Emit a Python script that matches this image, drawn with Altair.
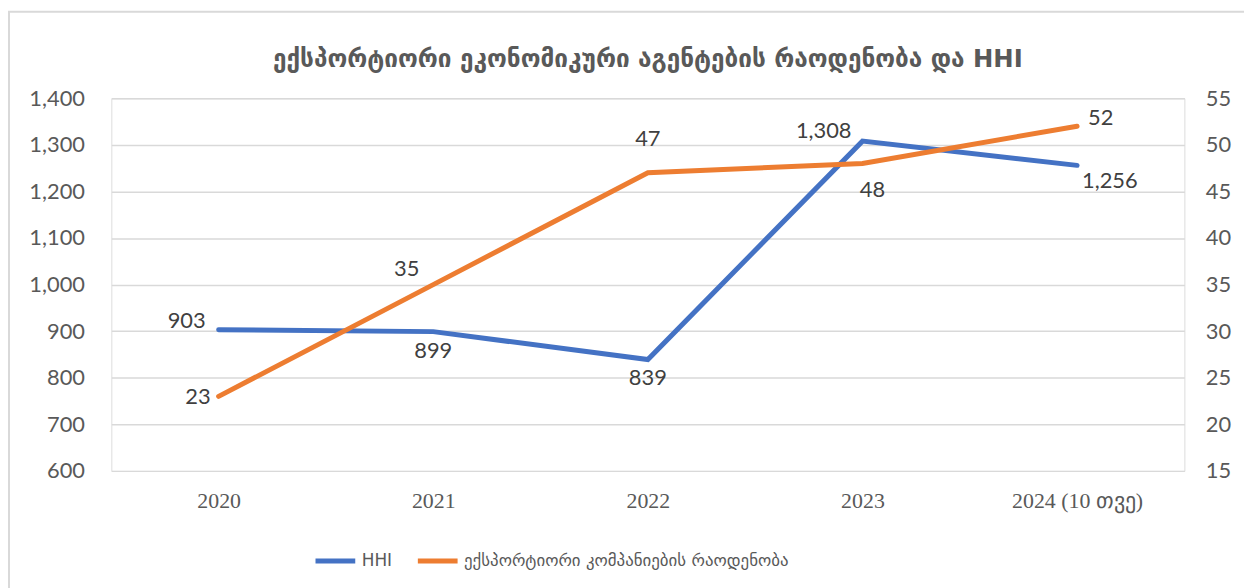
import altair as alt
import pandas as pd

years = ["2020", "2021", "2022", "2023", "2024 (10 თვე)"]
hhi = [903, 899, 839, 1308, 1256]
companies = [23, 35, 47, 48, 52]

hhi_name = "HHI"
cnt_name = "ექსპორტიორი კომპანიების რაოდენობა"
title_text = "ექსპორტიორი ეკონომიკური აგენტების რაოდენობა და HHI"

BLUE = "#4472C4"
ORANGE = "#ED7D31"
GRID = "#d9d9d9"
TXT = "#595959"
LBL = "#404040"
NUMFONT = "Lato"
GEOFONT = "DejaVu Sans"

df_h = pd.DataFrame({"year": years, "value": hhi, "series": hhi_name,
                     "label": [f"{v:,}" for v in hhi]})
df_c = pd.DataFrame({"year": years, "value": companies, "series": cnt_name,
                     "label": [str(v) for v in companies]})

W, H = 1080, 375

xenc = alt.X("year:N", sort=years, scale=alt.Scale(type="point", padding=0.5),
             axis=alt.Axis(title=None, labelAngle=0, domain=False, ticks=False,
                           labelFont="Liberation Serif", labelFontSize=22,
                           labelColor=TXT, labelPadding=20, grid=False))

color = alt.Color("series:N", scale=alt.Scale(domain=[hhi_name, cnt_name], range=[BLUE, ORANGE]),
                  legend=alt.Legend(title=None, orient="none", legendX=203, legendY=443,
                                    direction="horizontal", symbolType="stroke",
                                    symbolStrokeWidth=5, symbolSize=1600,
                                    labelFont=GEOFONT, labelFontSize=17, labelColor=TXT,
                                    labelOffset=4, columnPadding=15, labelLimit=0))

yl = alt.Y("value:Q", scale=alt.Scale(domain=[600, 1400], nice=False, zero=False),
           axis=alt.Axis(title=None, values=list(range(600, 1401, 100)), format=",.0f",
                         domain=False, ticks=False, labelFont=NUMFONT, labelFontSize=22,
                         labelColor=TXT, labelPadding=27, gridColor=GRID, gridWidth=1.5))
yr = alt.Y("value:Q", scale=alt.Scale(domain=[15, 55], nice=False, zero=False),
           axis=alt.Axis(title=None, orient="right", values=list(range(15, 56, 5)),
                         domain=False, domainOpacity=0, ticks=False, grid=False,
                         labelFont=NUMFONT, labelFontSize=22, labelColor=TXT,
                         labelPadding=21))

# label placement styles (align, dx, dy) per point
hhi_style = [("right", -13, -9), ("center", 0, 20), ("center", 0, 19), ("right", -11, -10), ("left", 5, 16)]
cnt_style = [("right", -8, 1), ("right", -14, -16), ("center", 0, -34), ("center", 10, 27), ("left", 11, -8)]

line_h = alt.Chart(df_h).mark_line(strokeWidth=5, strokeCap="round").encode(x=xenc, y=yl, color=color)
texts_h = [
    alt.Chart(df_h).transform_filter(alt.datum.year == years[i]).mark_text(
        align=a, baseline="middle", dx=dx, dy=dy, font=NUMFONT, fontSize=22, color=LBL
    ).encode(x=xenc, y=yl, text="label:N")
    for i, (a, dx, dy) in enumerate(hhi_style)
]
line_c = alt.Chart(df_c).mark_line(strokeWidth=5, strokeCap="round").encode(x=xenc, y=yr, color=color)
texts_c = [
    alt.Chart(df_c).transform_filter(alt.datum.year == years[i]).mark_text(
        align=a, baseline="middle", dx=dx, dy=dy, font=NUMFONT, fontSize=22, color=LBL
    ).encode(x=xenc, y=yr, text="label:N")
    for i, (a, dx, dy) in enumerate(cnt_style)
]

one = pd.DataFrame({"t": [title_text]})
frame = alt.Chart(one).mark_rect(fill="transparent", stroke=GRID, strokeWidth=2).encode(
    x=alt.value(-103), x2=alt.value(1300), y=alt.value(-87), y2=alt.value(600))
title = alt.Chart(one).mark_text(font=GEOFONT, fontSize=24.5, fontWeight="bold", color=TXT,
                                 align="center", baseline="middle").encode(
    x=alt.value(540), y=alt.value(-38), text="t:N")

left = alt.layer(frame, title, line_h, *texts_h)
right = alt.layer(line_c, *texts_c)

chart = alt.layer(left, right).resolve_scale(y="independent").properties(
    width=W, height=H,
    autosize=alt.AutoSizeParams(type="none"),
    padding={"left": 104, "top": 89, "right": 60, "bottom": 116},
).configure_view(stroke="transparent", strokeWidth=0).configure_axis(
    domain=False, ticks=False).configure(background="white")

chart.save("out.html", embed_options={"renderer": "svg", "actions": False})
